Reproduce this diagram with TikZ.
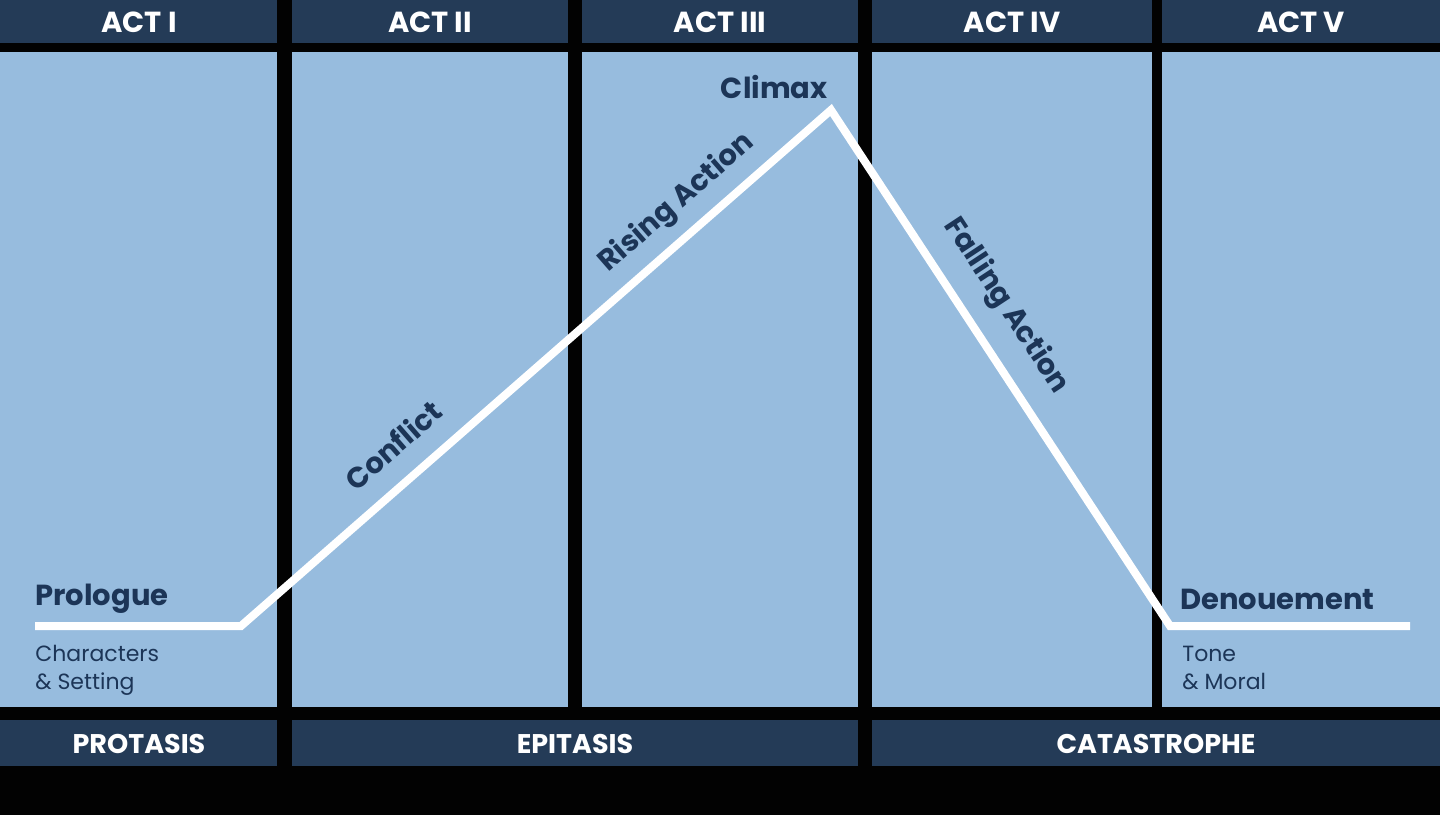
\documentclass[tikz,border=0pt]{standalone}
\usepackage{fontspec}
\setmainfont{Poppins}
\usepackage{xcolor}
\usepackage{tikz}
\usetikzlibrary{calc}
\definecolor{bg}{HTML}{020202}
\definecolor{panel}{HTML}{97BCDE}
\definecolor{bar}{HTML}{243B57}
\definecolor{ink}{HTML}{1C3557}
\definecolor{plot}{HTML}{FFFFFF}
\tikzset{
  panelbox/.style={fill=panel, draw=none},
  barbox/.style={fill=bar, draw=none},
  barlab/.style={text=white, font=\bfseries\fontsize{14.5}{18}\selectfont},
  partlab/.style={text=white, font=\bfseries\fontsize{13.5}{16}\selectfont},
  lab/.style={text=ink, font=\bfseries\fontsize{14.5}{18}\selectfont, inner sep=0pt},
  labs/.style={text=ink, font=\fontsize{11}{14}\selectfont, inner sep=0pt, align=left},
  arc/.style={line width=4pt, draw=plot, line join=miter}
}
\begin{document}
\begin{tikzpicture}[x=0.5pt, y=-0.5pt]
  \fill[bg] (0,0) rectangle (1440,815);
  \useasboundingbox (0,0) rectangle (1440,815);

  % acts
  \fill[barbox] (0,0) rectangle (277,43);    \fill[panelbox] (0,52) rectangle (277,707);
  \fill[barbox] (292,0) rectangle (568,43);  \fill[panelbox] (292,52) rectangle (568,707);
  \fill[barbox] (582,0) rectangle (858,43);  \fill[panelbox] (582,52) rectangle (858,707);
  \fill[barbox] (872,0) rectangle (1152,43); \fill[panelbox] (872,52) rectangle (1152,707);
  \fill[barbox] (1162,0) rectangle (1440,43);\fill[panelbox] (1162,52) rectangle (1440,707);
  \node[barlab] (act1) at (139,22) {ACT I};
  \node[barlab] (act2) at (430,22) {ACT II};
  \node[barlab] (act3) at (720,22) {ACT III};
  \node[barlab] (act4) at (1012,22) {ACT IV};
  \node[barlab] (act5) at (1301,22) {ACT V};

  % parts
  \fill[barbox] (0,720) rectangle (277,766);
  \fill[barbox] (292,720) rectangle (858,766);
  \fill[barbox] (872,720) rectangle (1440,766);
  \node[partlab] (protasis) at (139,744) {PROTASIS};
  \node[partlab] (epitasis) at (575,744) {EPITASIS};
  \node[partlab] (catastrophe) at (1156,744) {CATASTROPHE};

  % plot line
  \coordinate (start) at (35,626);
  \coordinate (turnA) at (241,626);
  \coordinate (climax) at (831,110);
  \coordinate (turnB) at (1170,626);
  \coordinate (end) at (1410,626);
  \draw[arc] (start) -- (turnA) -- (climax) -- (turnB) -- (end);

  \node[lab,anchor=base west] (prologue) at (35,605) {Prologue};
  \node[labs,anchor=north west] (setting) at (35,645) {Characters\\\& Setting};
  \node[lab,anchor=base west] (denouement) at (1180,609) {Denouement};
  \node[labs,anchor=north west] (moral) at (1182,646) {Tone\\\& Moral};
  \node[lab,anchor=base east] (climaxlab) at (828,98) {Climax};
  \node[lab,rotate=41.1] (conflict) at (393,445) {Conflict};
  \node[lab,rotate=41.1] (rising) at (677,203) {Rising Action};
  \node[lab,rotate=-56.6] (falling) at (1006,306) {Falling Action};
\end{tikzpicture}
\end{document}
